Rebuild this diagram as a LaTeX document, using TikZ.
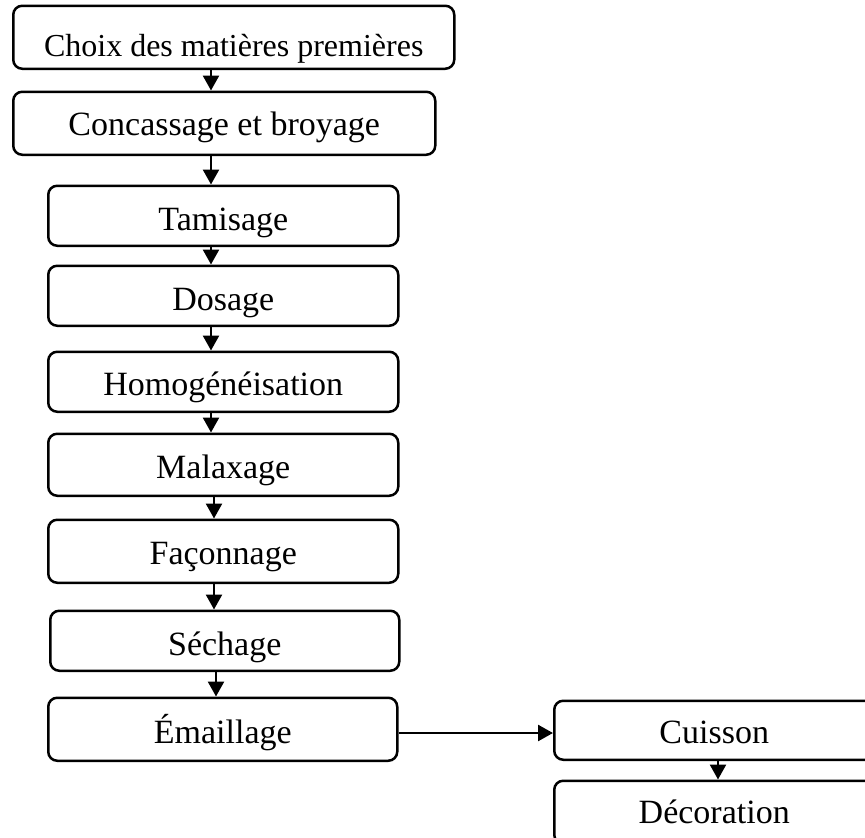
\documentclass[tikz,border=0pt]{standalone}
\usepackage{fontspec}
\setmainfont{Liberation Serif}
\usetikzlibrary{arrows.meta}
\begin{document}
\begin{tikzpicture}[x=1pt,y=-1pt,
  box/.style={draw, line width=2.5pt, rounded corners=9pt, inner sep=0pt, anchor=south west, align=center, font=\fontsize{34pt}{40pt}\selectfont},
  arr/.style={line width=2.5pt, -{Triangle[width=16pt,length=15pt]}}]
\useasboundingbox (0,0) rectangle (865,838);
\clip (0,0) rectangle (865,838);
\node[box, font=\fontsize{32pt}{38pt}\selectfont, minimum width=441pt, text height=51pt, text depth=12pt] (choix) at (12,70) {Choix des matières premières};
\node[box, minimum width=422pt, text height=44pt, text depth=19pt] (conc) at (12,156) {Concassage et broyage};
\node[box, minimum width=350pt, text height=45pt, text depth=15pt] (tam) at (47,247) {Tamisage};
\node[box, minimum width=350pt, text height=45pt, text depth=15pt] (dos) at (47,327) {Dosage};
\node[box, minimum width=350pt, text height=44pt, text depth=16pt] (hom) at (47,413) {Homogénéisation};
\node[box, minimum width=350pt, text height=45pt, text depth=17pt] (mal) at (47,497) {Malaxage};
\node[box, minimum width=350pt, text height=45pt, text depth=18pt] (fac) at (47,584) {Façonnage};
\node[box, minimum width=349pt, text height=45pt, text depth=15pt] (sec) at (49,672) {Séchage};
\node[box, minimum width=349pt, text height=46pt, text depth=17pt] (ema) at (47,762) {Émaillage};
\node[box, minimum width=320pt, text height=43pt, text depth=16pt] (cui) at (553,761) {Cuisson};
\node[box, minimum width=320pt, text height=43pt, text depth=20pt] (deco) at (553,845) {Décoration};
\coordinate (xa) at (211,0);
\coordinate (xb) at (214,0);
\coordinate (xc) at (216,0);
\coordinate (xd) at (718,0);
\coordinate (yh) at (0,733);
\draw[arr] (choix.south -| xa) -- (conc.north -| xa);
\draw[arr] (conc.south -| xa) -- (tam.north -| xa);
\draw[arr] (tam.south -| xa) -- (dos.north -| xa);
\draw[arr] (dos.south -| xa) -- (hom.north -| xa);
\draw[arr] (hom.south -| xa) -- (mal.north -| xa);
\draw[arr] (mal.south -| xb) -- (fac.north -| xb);
\draw[arr] (fac.south -| xb) -- (sec.north -| xb);
\draw[arr] (sec.south -| xc) -- (ema.north -| xc);
\draw[arr] (ema.east |- yh) -- (cui.west |- yh);
\draw[arr] (cui.south -| xd) -- (deco.north -| xd);
\end{tikzpicture}
\end{document}
